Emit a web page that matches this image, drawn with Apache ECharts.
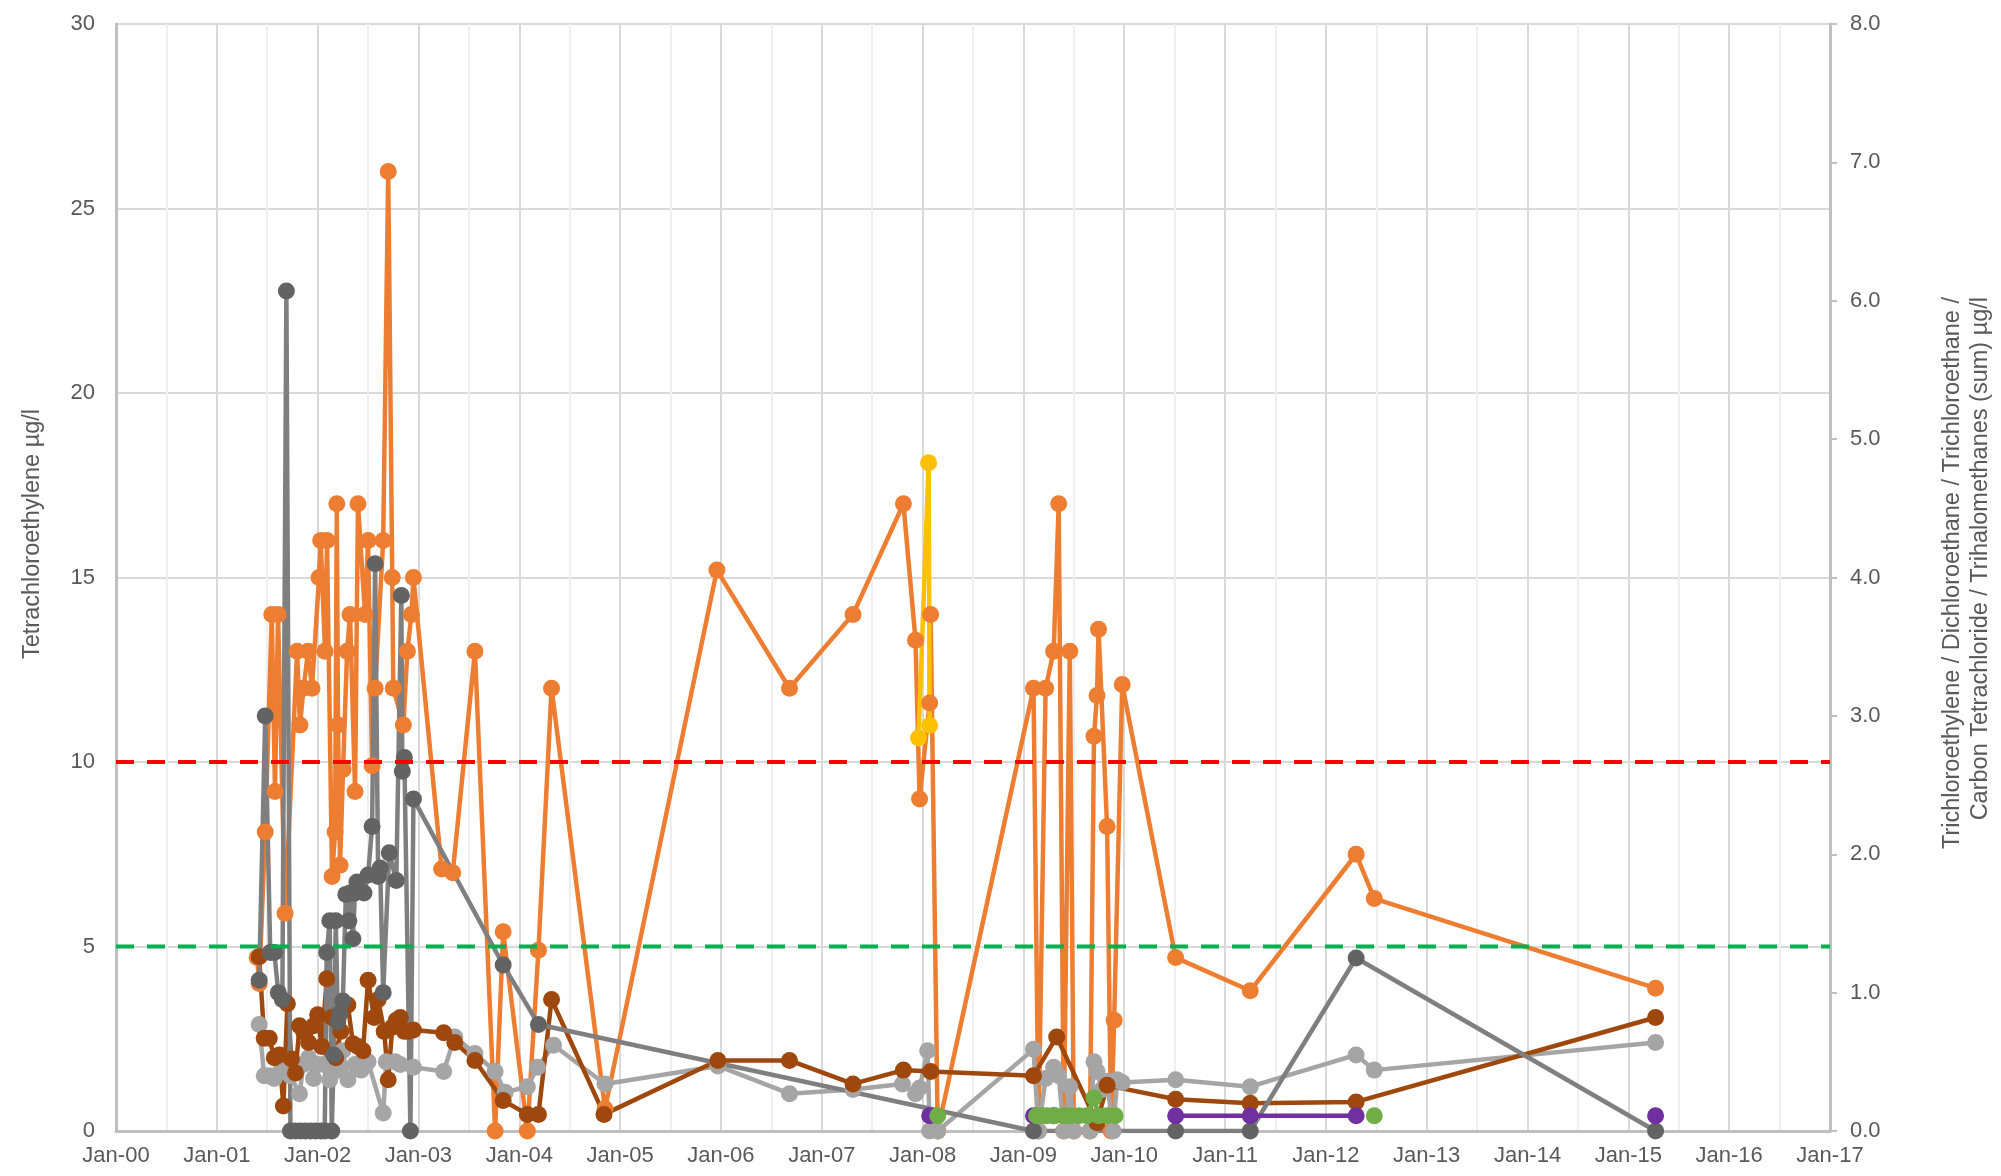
<!DOCTYPE html>
<html>
<head>
<meta charset="utf-8">
<title>Chlorinated solvents in groundwater</title>
<script src="https://cdn.jsdelivr.net/npm/echarts@6/dist/echarts.min.js"></script>
<style>
  html, body { margin: 0; padding: 0; background: #fff; }
  #chart { width: 2001px; height: 1176px; }
</style>
</head>
<body>
<div id="chart"></div>
<script>
// Sampling dates are stored as decimal years; values in µg/l.
// A null entry marks a gap in a series (no connecting line).

const yearTicks = [2000, 2001, 2002, 2003, 2004, 2005, 2006, 2007, 2008, 2009,
                   2010, 2011, 2012, 2013, 2014, 2015, 2016, 2017];

// Tetrachloroethylene (left axis)
const pce = [
  [2001.40, 4.7], [2001.42, 4.0], [2001.48, 8.1], [2001.545, 14.0], [2001.577, 9.2],
  [2001.607, 14.0], [2001.677, 5.9], [2001.796, 13.0], [2001.825, 11.0], [2001.86, 12.0],
  [2001.905, 13.0], [2001.944, 12.0], [2002.014, 15.0], [2002.03, 16.0], [2002.073, 13.0],
  [2002.093, 16.0], [2002.143, 6.9], [2002.173, 8.1], [2002.19, 17.0], [2002.202, 11.0],
  [2002.222, 7.2], [2002.252, 9.8], [2002.292, 13.0], [2002.321, 14.0], [2002.371, 9.2],
  [2002.40, 17.0], [2002.47, 14.0], [2002.50, 16.0], [2002.54, 9.9], [2002.57, 12.0],
  [2002.65, 16.0], [2002.70, 26.0], [2002.74, 15.0], [2002.75, 12.0], [2002.85, 11.0],
  [2002.89, 13.0], [2002.93, 14.0], [2002.95, 15.0], [2003.23, 7.1], [2003.34, 7.0],
  [2003.56, 13.0], [2003.76, 0.0], [2003.84, 5.4], [2004.08, 0.0], [2004.19, 4.9],
  [2004.32, 12.0], [2004.85, 0.6], [2005.96, 15.2], [2006.68, 12.0], [2007.31, 14.0],
  [2007.81, 17.0], [2007.93, 13.3], [2007.97, 9.0], [2008.07, 11.6], [2008.08, 14.0],
  [2008.15, 0.0], [2009.10, 12.0], [2009.15, 0.0], [2009.22, 12.0], [2009.30, 13.0],
  [2009.35, 17.0], [2009.40, 0.0], [2009.46, 13.0], [2009.50, 0.0], [2009.66, 0.0],
  [2009.70, 10.7], [2009.73, 11.8], [2009.745, 13.6], [2009.83, 8.25], [2009.87, 0.0],
  [2009.90, 3.0], [2009.98, 12.1], [2010.51, 4.7], [2011.25, 3.8], [2012.30, 7.5],
  [2012.48, 6.3], [2015.27, 3.87]
];

// Trichloroethylene (right axis)
const tce = [
  [2001.42, 1.09], [2001.48, 3.0], [2001.53, 1.29], [2001.57, 1.29], [2001.61, 1.0],
  [2001.65, 0.95], [2001.69, 6.07], [2001.73, 0], [2001.78, 0], [2001.83, 0],
  [2001.88, 0], [2001.93, 0], [2001.98, 0], [2002.03, 0], [2002.07, 0],
  [2002.09, 1.29], [2002.12, 1.52], [2002.14, 0], [2002.16, 0.55], [2002.18, 1.52],
  [2002.20, 0.79], [2002.22, 0.85], [2002.25, 0.94], [2002.28, 1.71], [2002.31, 1.52],
  [2002.32, 1.72], [2002.35, 1.39], [2002.37, 1.72], [2002.39, 1.80], [2002.46, 1.72],
  [2002.50, 1.85], [2002.54, 2.20], [2002.57, 4.10], [2002.60, 1.84], [2002.62, 1.90],
  [2002.65, 1.0], [2002.71, 2.01], [2002.78, 1.81], [2002.83, 3.87], [2002.84, 2.60],
  [2002.86, 2.70], [2002.92, 0], [2002.95, 2.40], [2003.84, 1.2], [2004.19, 0.77],
  [2009.10, 0], [2010.51, 0], [2011.25, 0], [2012.30, 1.25], [2015.27, 0]
];

// Trichloroethane (right axis)
const tca = [
  [2001.42, 0.77], [2001.47, 0.40], [2001.52, 0.40], [2001.57, 0.38], [2001.63, 0.43],
  [2001.68, 0.45], [2001.73, 0.40], [2001.82, 0.27], [2001.86, 0.48], [2001.91, 0.53],
  [2001.96, 0.38], [2002.00, 0.48], [2002.06, 0.48], [2002.12, 0.37], [2002.16, 0.53],
  [2002.20, 0.44], [2002.25, 0.58], [2002.30, 0.37], [2002.37, 0.48], [2002.43, 0.44],
  [2002.50, 0.50], [2002.65, 0.13], [2002.68, 0.50], [2002.77, 0.50], [2002.82, 0.48],
  [2002.95, 0.46], [2003.25, 0.43], [2003.36, 0.68], [2003.56, 0.56], [2003.76, 0.43],
  [2003.86, 0.28], [2004.08, 0.32], [2004.18, 0.46], [2004.34, 0.62], [2004.85, 0.34],
  [2005.97, 0.47], [2006.68, 0.27], [2007.31, 0.30], [2007.80, 0.34], [2007.93, 0.27],
  [2007.97, 0.31], [2008.05, 0.58], [2008.07, 0.0], [2008.15, 0.0], [2009.10, 0.59],
  [2009.15, 0.0], [2009.22, 0.38], [2009.30, 0.46], [2009.35, 0.40], [2009.40, 0.0],
  [2009.46, 0.32], [2009.50, 0.0], [2009.66, 0.0], [2009.70, 0.50], [2009.73, 0.43],
  [2009.78, 0.30], [2009.83, 0.36], [2009.89, 0.0], [2009.93, 0.37], [2009.98, 0.35],
  [2010.51, 0.37], [2011.25, 0.32], [2012.30, 0.55], [2012.48, 0.44], [2015.27, 0.64]
];

// Trihalomethanes (sum) (right axis)
const thm = [
  [2001.42, 1.26], [2001.47, 0.67], [2001.52, 0.67], [2001.57, 0.53], [2001.62, 0.55],
  [2001.66, 0.18], [2001.70, 0.92], [2001.74, 0.52], [2001.78, 0.42], [2001.82, 0.76],
  [2001.86, 0.72], [2001.91, 0.64], [2001.96, 0.76], [2002.00, 0.84], [2002.04, 0.61],
  [2002.09, 1.10], [2002.14, 0.82], [2002.18, 0.53], [2002.23, 0.72], [2002.30, 0.91],
  [2002.35, 0.63], [2002.40, 0.61], [2002.45, 0.58], [2002.50, 1.09], [2002.56, 0.82],
  [2002.60, 0.95], [2002.66, 0.72], [2002.70, 0.37], [2002.74, 0.75], [2002.78, 0.80],
  [2002.82, 0.82], [2002.86, 0.72], [2002.90, 0.72], [2002.95, 0.73], [2003.25, 0.71],
  [2003.36, 0.64], [2003.56, 0.51], [2003.84, 0.22], [2004.08, 0.12], [2004.19, 0.12],
  [2004.32, 0.95], [2004.84, 0.12], [2005.97, 0.51], [2006.68, 0.51], [2007.31, 0.34],
  [2007.81, 0.44], [2008.08, 0.43], [2009.10, 0.40], [2009.33, 0.68], [2009.73, 0.06],
  [2009.83, 0.33], [2010.51, 0.23], [2011.25, 0.20], [2012.30, 0.21], [2015.27, 0.82]
];

// Carbon tetrachloride (right axis)
const ctc = [[2007.96, 2.84], [2008.06, 4.83], [2008.07, 2.93]];

// Dichloroethane (right axis)
const dca = [
  [2008.07, 0.11], null, [2009.10, 0.11], [2009.30, 0.11], null,
  [2010.51, 0.11], [2011.25, 0.11], [2012.30, 0.11], null, [2015.27, 0.11]
];

// 1,1,1-Trichloroethane (right axis)
const tca111 = [
  [2008.15, 0.11], null, [2009.13, 0.11], [2009.18, 0.11], [2009.23, 0.11],
  [2009.31, 0.11], [2009.40, 0.11], [2009.46, 0.11], [2009.55, 0.11], [2009.63, 0.11],
  [2009.70, 0.24], [2009.745, 0.11], [2009.83, 0.11], [2009.91, 0.11], null,
  [2012.48, 0.11]
];

// Limit values for tetrachloroethylene (left axis)
const limitHigh = 10;
const limitLow = 5;

const textColor = '#595959';
const fontFamily = '"Liberation Sans", Arial, sans-serif';

function pts(arr) {
  return arr.map(p => (p === null ? ['-', '-'] : p));
}

function lineSeries(name, data, yIdx, lineColor, markerColor) {
  return {
    name: name,
    type: 'line',
    yAxisIndex: yIdx,
    data: pts(data),
    connectNulls: false,
    symbol: 'circle',
    symbolSize: 17,
    showSymbol: true,
    lineStyle: { color: lineColor, width: 4.5 },
    itemStyle: { color: markerColor || lineColor, borderWidth: 0 },
    emphasis: { disabled: true },
    z: 2
  };
}

function limitSeries(name, value, color) {
  return {
    name: name,
    type: 'line',
    yAxisIndex: 0,
    data: [[yearTicks[0], value], [yearTicks[yearTicks.length - 1], value]],
    symbol: 'none',
    lineStyle: { color: color, width: 4, type: [18, 13] },
    silent: true,
    z: 3
  };
}

const chart = echarts.init(document.getElementById('chart'), null, { renderer: 'canvas' });

chart.setOption({
  animation: false,
  backgroundColor: '#ffffff',
  textStyle: { fontFamily: fontFamily },
  grid: { left: 116, right: 171, top: 24, bottom: 45, containLabel: false },
  xAxis: {
    type: 'value',
    min: yearTicks[0],
    max: yearTicks[yearTicks.length - 1],
    interval: 1,
    axisLine: { show: true, onZero: false, lineStyle: { color: '#bfbfbf', width: 3 } },
    axisTick: { show: false },
    axisLabel: {
      color: textColor, fontSize: 22, fontFamily: fontFamily, margin: 14,
      formatter: v => 'Jan-' + String(Math.round(v) % 100).padStart(2, '0')
    },
    splitLine: { show: true, lineStyle: { color: '#d9d9d9', width: 2 } },
    minorTick: { show: false, splitNumber: 2 },
    minorSplitLine: { show: true, lineStyle: { color: '#efefef', width: 2 } }
  },
  yAxis: [
    {
      type: 'value',
      min: 0, max: 30, interval: 5,
      position: 'left',
      axisLine: { show: true, lineStyle: { color: '#bfbfbf', width: 3 } },
      axisTick: { show: false },
      axisLabel: { color: textColor, fontSize: 22, fontFamily: fontFamily, margin: 21 },
      splitLine: { show: true, lineStyle: { color: '#d9d9d9', width: 2 } }
    },
    {
      type: 'value',
      min: 0, max: 8, interval: 1,
      position: 'right',
      axisLine: { show: true, lineStyle: { color: '#bfbfbf', width: 3 } },
      axisTick: { show: true, inside: false, length: 7, lineStyle: { color: '#bfbfbf', width: 2 } },
      axisLabel: {
        color: textColor, fontSize: 22, fontFamily: fontFamily, margin: 20,
        formatter: v => v.toFixed(1)
      },
      splitLine: { show: false }
    }
  ],
  graphic: [
    {
      type: 'text',
      x: 33, y: 534,
      rotation: Math.PI / 2,
      style: {
        text: 'Tetrachloroethylene µg/l',
        fill: textColor, font: '23.5px ' + fontFamily,
        textAlign: 'center', textVerticalAlign: 'middle'
      }
    },
    {
      type: 'text',
      x: 1967, y: 297,
      rotation: Math.PI / 2,
      style: {
        text: 'Trichloroethylene / Dichloroethane / Trichloroethane /\nCarbon Tetrachloride / Trihalomethanes (sum) µg/l',
        fill: textColor, font: '23.5px ' + fontFamily,
        lineHeight: 28,
        textAlign: 'right', textVerticalAlign: 'middle'
      }
    }
  ],
  series: [
    lineSeries('Tetrachloroethylene', pce, 0, '#ED7D31'),
    lineSeries('Carbon Tetrachloride', ctc, 1, '#FFC000'),
    lineSeries('Trichloroethane', tca, 1, '#A5A5A5'),
    lineSeries('Trihalomethanes (sum)', thm, 1, '#9E480E'),
    lineSeries('Trichloroethylene', tce, 1, '#7F7F7F', '#636363'),
    lineSeries('Dichloroethane', dca, 1, '#7030A0'),
    lineSeries('1,1,1-Trichloroethane', tca111, 1, '#70AD47'),
    limitSeries('Limit 10 µg/l', limitHigh, '#FF0000'),
    limitSeries('Limit 5 µg/l', limitLow, '#00B050')
  ]
});
</script>
</body>
</html>
